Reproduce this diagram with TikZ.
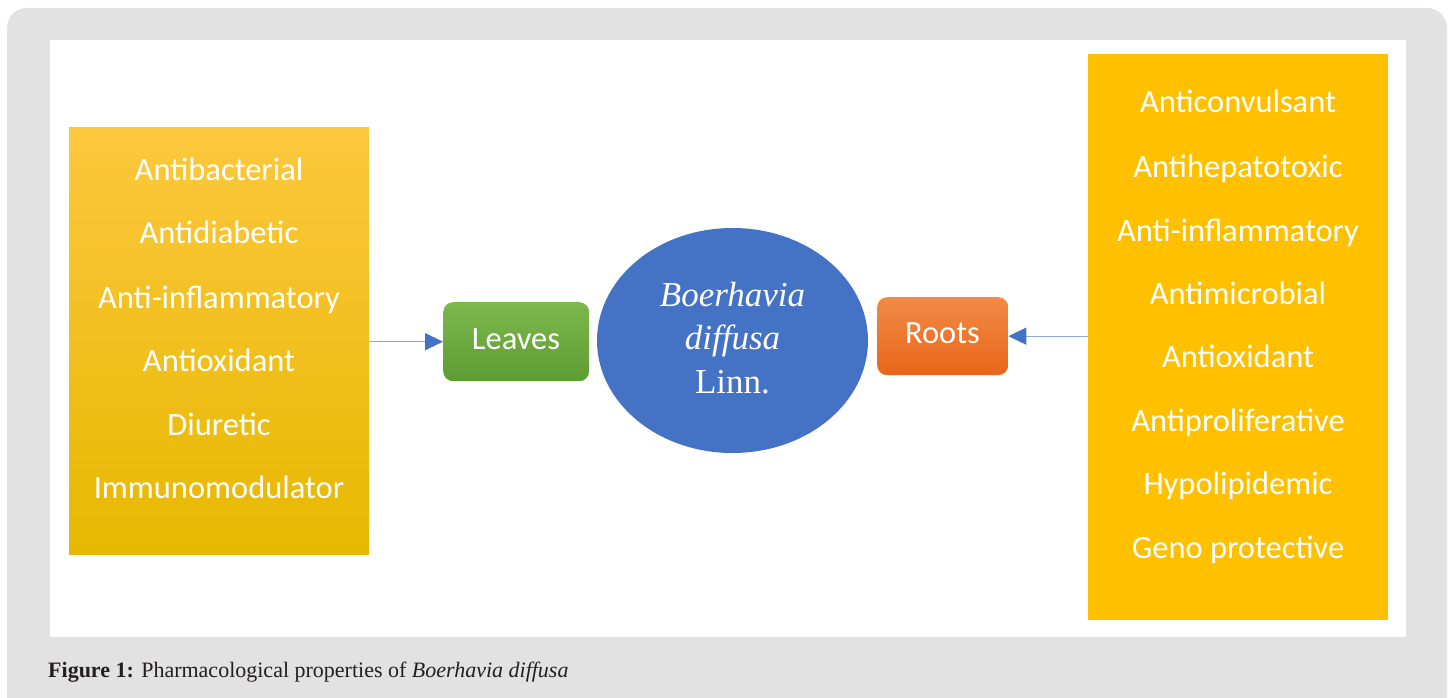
\documentclass[tikz,border=0pt]{standalone}
\usepackage{fontspec}
\setmainfont{Liberation Serif}
\newfontfamily\calfont{Carlito}
\usetikzlibrary{shapes.geometric,arrows.meta}
\definecolor{framegrey}{HTML}{E2E2E2}
\definecolor{yellowtop}{HTML}{FCC83E}
\definecolor{yellowbot}{HTML}{E7B800}
\definecolor{yellowflat}{HTML}{FFC000}
\definecolor{greentop}{HTML}{7DB84D}
\definecolor{greenbot}{HTML}{5C9C32}
\definecolor{orangetop}{HTML}{F28A45}
\definecolor{orangebot}{HTML}{E8661A}
\definecolor{ellblue}{HTML}{4472C4}
\definecolor{linkblue}{HTML}{8EA9DB}
\definecolor{captxt}{HTML}{231F20}
\tikzset{
  listtxt/.style={anchor=base, text=white, font=\calfont\fontsize{32.5}{38}\selectfont, inner sep=0pt},
  pill/.style={rounded corners=10pt, minimum width=#1, inner sep=0pt},
  link/.style={draw=linkblue, line width=1.4pt, -{Triangle[length=18pt,width=17pt,fill=ellblue,color=ellblue]}},
  elltxt/.style={anchor=base, text=white, inner sep=0pt, font=\fontsize{35}{40}\selectfont},
}
\begin{document}
\begin{tikzpicture}[x=1pt,y=-1pt]
\useasboundingbox (0,0) rectangle (1450,698);
\fill[white] (0,0) rectangle (1450,698);
\fill[framegrey, rounded corners=20pt] (7,8) rectangle (1447,718);
\fill[white] (50,40) rectangle (1406,637);

% left box
\node[draw=none, top color=yellowtop, bottom color=yellowbot, minimum width=300pt, minimum height=427pt, inner sep=0pt, anchor=north west] (leftbox) at (69,127) {};
\foreach \t/\y [count=\i] in {Antibacterial/180, Antidiabetic/243, Anti-inflammatory/308, Antioxidant/371, Diuretic/435, Immunomodulator/498}
  \node[listtxt] (l\i) at (219,\y) {\t};

% right box
\node[fill=yellowflat, minimum width=300pt, minimum height=566pt, inner sep=0pt, anchor=north west] (rightbox) at (1088,54) {};
\foreach \t/\y [count=\i] in {Anticonvulsant/113, Antihepatotoxic/177, Anti-inflammatory/241, Antimicrobial/304, Antioxidant/367, Antiproliferative/431, Hypolipidemic/494, Geno protective/558}
  \node[listtxt] (r\i) at (1238,\y) {\t};

% leaves / roots
\node[pill=146pt, minimum height=79pt, top color=greentop, bottom color=greenbot, anchor=north west] (leaves) at (443,302) {};
\node[listtxt] (leavestxt) at (516,349) {Leaves};
\node[pill=131pt, minimum height=78pt, top color=orangetop, bottom color=orangebot, anchor=north west] (roots) at (877,297) {};
\node[listtxt] (rootstxt) at (942.5,343) {Roots};

% ellipse
\node[ellipse, fill=ellblue, minimum width=271pt, minimum height=225pt, inner sep=0pt] (plant) at (732.5,340.5) {};
\node[elltxt] (e1) at (732.5,306) {\itshape Boerhavia};
\node[elltxt] (e2) at (732.5,349) {\itshape diffusa};
\node[elltxt] (e3) at (732.5,393) {Linn.};

% arrows
\draw[link] (leftbox.east |- leaves.west) -- (leaves.west);
\draw[link] (rightbox.west |- roots.east) -- (roots.east);

% caption
\node[anchor=base west, inner sep=0pt, text=captxt, font=\fontsize{22}{26}\selectfont] (caption) at (48,677) {\textbf{Figure 1:} Pharmacological properties of \textit{Boerhavia diffusa}};
\end{tikzpicture}
\end{document}
